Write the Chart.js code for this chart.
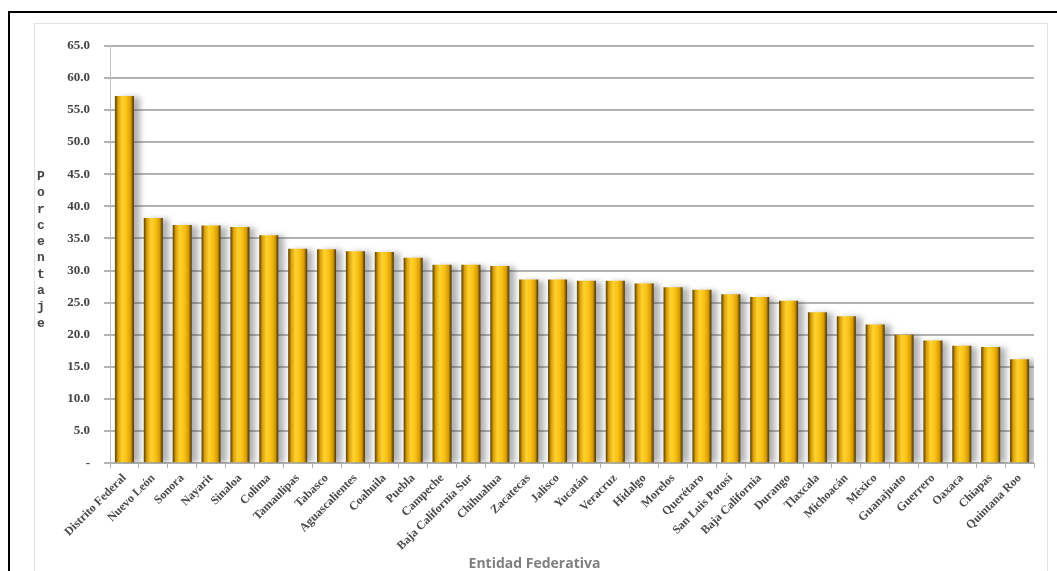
<!DOCTYPE html>
<html>
<head>
<meta charset="utf-8">
<script src="https://cdn.jsdelivr.net/npm/chart.js@4.4.1/dist/chart.umd.min.js"></script>
<style>
  body { margin: 0; background: #fff; width: 1057px; height: 571px; overflow: hidden; position: relative; }
  #frame { position: absolute; left: 8px; top: 11px; right: 0; bottom: 0; border-top: 2px solid #000; border-left: 2px solid #000; }
  #box { position: absolute; left: 34px; top: 23px; width: 1012px; height: 548px; border: 1px solid #e2e2e2; border-bottom: none; }
  #ytitle { position: absolute; left: 35px; top: 169px; width: 12px; text-align: center;
            font: bold 13px "Liberation Mono", monospace; line-height: 16.3px; color: #444; }
</style>
</head>
<body>
<div id="frame"></div>
<div id="box"><canvas id="myChart" width="1012" height="548"></canvas></div>
<div id="ytitle">P<br>o<br>r<br>c<br>e<br>n<br>t<br>a<br>j<br>e</div>
<script>
// entidades ordenadas de mayor a menor porcentaje
var entidades = ["Distrito Federal", "Nuevo León", "Sonora", "Nayarit", "Sinaloa", "Colima",
  "Tamaulipas", "Tabasco", "Aguascalientes", "Coahuila", "Puebla", "Campeche",
  "Baja California Sur", "Chihuahua", "Zacatecas", "Jalisco", "Yucatán", "Veracruz",
  "Hidalgo", "Morelos", "Querétaro", "San Luis Potosí", "Baja California", "Durango",
  "Tlaxcala", "Michoacán", "México", "Guanajuato", "Guerrero", "Oaxaca", "Chiapas", "Quintana Roo"];

var porcentaje = [57.2, 38.2, 37.1, 37.0, 36.8, 35.5,
  33.4, 33.3, 33.0, 32.9, 32.0, 30.9,
  30.9, 30.7, 28.6, 28.6, 28.4, 28.4,
  28.0, 27.4, 27.0, 26.3, 25.9, 25.3,
  23.5, 22.9, 21.6, 20.0, 19.1, 18.3, 18.1, 16.2];

var yTicks = [0, 5, 10, 15, 20, 25, 30, 35, 40, 45, 50, 55, 60, 65];

var BAR_PCT = 0.66;

// gradiente dorado horizontal para cada barra (bordes oscuros incluidos)
function barFill(context) {
    var chart = context.chart;
    var x = chart.scales.x;
    if (!x || context.dataIndex === undefined) return "#f2b705";
    var cx = x.getPixelForValue(context.dataIndex);
    var half = (x.width / entidades.length) * BAR_PCT / 2;
    if (!isFinite(cx) || !isFinite(half) || half <= 0) return "#f2b705";
    var g = chart.ctx.createLinearGradient(cx - half, 0, cx + half, 0);
    g.addColorStop(0.00, "#5e4503");
    g.addColorStop(0.07, "#8a6406");
    g.addColorStop(0.16, "#d99e0c");
    g.addColorStop(0.38, "#ffd22e");
    g.addColorStop(0.62, "#f9c115");
    g.addColorStop(0.84, "#d69a06");
    g.addColorStop(0.93, "#7d5a04");
    g.addColorStop(1.00, "#4e3a02");
    return g;
}

// sombra gris a la derecha de las barras
var barShadow = {
    id: "barShadow",
    beforeDatasetsDraw: function(chart) {
        var c = chart.ctx;
        c.save();
        c.shadowColor = "rgba(60,60,60,0.4)";
        c.shadowBlur = 6;
        c.shadowOffsetX = 6;
        c.shadowOffsetY = 1;
    },
    afterDatasetsDraw: function(chart) {
        chart.ctx.restore();
    }
};

new Chart("myChart", {
    type: "bar",
    data: {
        labels: entidades,
        datasets: [{
            data: porcentaje,
            backgroundColor: barFill,
            borderWidth: 0,
            barPercentage: BAR_PCT,
            categoryPercentage: 1
        }]
    },
    options: {
        responsive: false,
        animation: false,
        events: [],
        layout: { padding: { top: 15, right: 13, left: 0, bottom: 0 } },
        plugins: {
            legend: { display: false },
            tooltip: { enabled: false },
            title: {
                display: true,
                position: "bottom",
                text: "Entidad Federativa",
                color: "#7f7f7f",
                font: { family: "Open Sans", size: 14, weight: "bold" },
                padding: { top: 4, bottom: 0 }
            }
        },
        scales: {
            x: {
                grid: { display: true, drawOnChartArea: false, offset: true, color: "#b0b0b0", tickLength: 5 },
                border: { color: "#b0b0b0", width: 1 },
                ticks: {
                    autoSkip: false,
                    maxRotation: 45,
                    minRotation: 45,
                    padding: 3,
                    color: "#4a4a4a",
                    font: { family: "Liberation Serif", size: 12, weight: "bold" }
                },
                afterFit: function(scale) { scale.height = 88; }
            },
            y: {
                min: 0,
                max: 65,
                afterBuildTicks: function(scale) {
                    scale.ticks = yTicks.map(function(v) { return { value: v }; });
                },
                grid: { color: "#b3b3b3", lineWidth: 2, tickLength: 6 },
                border: { color: "#c0c0c0", width: 1 },
                ticks: {
                    padding: 14,
                    color: "#444",
                    font: { family: "Liberation Serif", size: 13, weight: "bold" },
                    callback: function(v) { return v === 0 ? "-" : v.toFixed(1); }
                },
                afterFit: function(scale) { scale.width = 75; }
            }
        }
    },
    plugins: [barShadow]
});
</script>
</body>
</html>
